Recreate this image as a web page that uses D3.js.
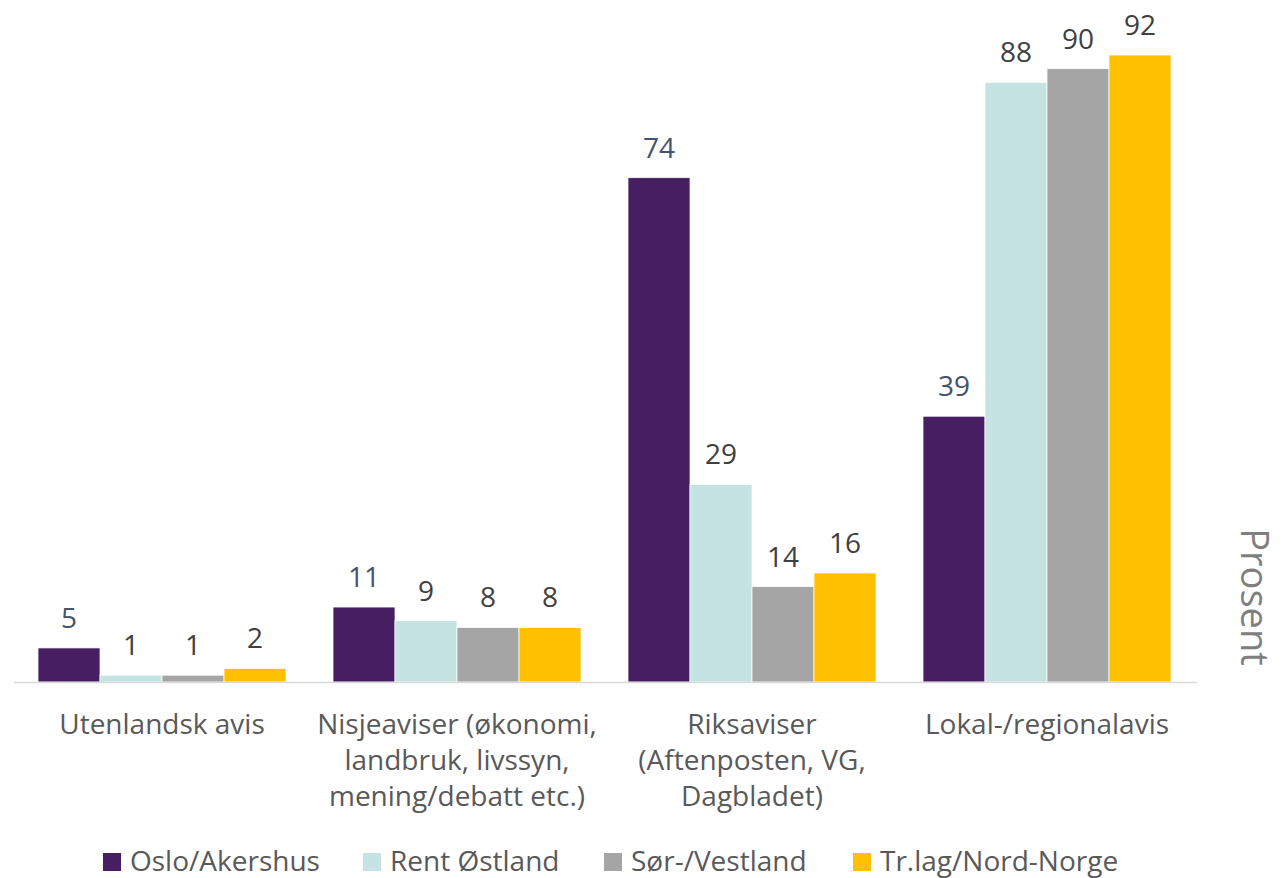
<!DOCTYPE html>
<html><head><meta charset="utf-8">
<script src="https://cdn.jsdelivr.net/npm/d3@7"></script>
<style>html,body{margin:0;padding:0;background:#fff;} svg{display:block;}</style>
</head><body>
<svg id="chart" width="1281" height="878"></svg>
<script>
const categories = ["Utenlandsk avis", "Nisjeaviser (økonomi, landbruk, livssyn, mening/debatt etc.)", "Riksaviser (Aftenposten, VG, Dagbladet)", "Lokal-/regionalavis"];
const categoryLines = [["Utenlandsk avis"], ["Nisjeaviser (økonomi,", "landbruk, livssyn,", "mening/debatt etc.)"], ["Riksaviser", "(Aftenposten, VG,", "Dagbladet)"], ["Lokal-/regionalavis"]];
const seriesNames = ["Oslo/Akershus", "Rent Østland", "Sør-/Vestland", "Tr.lag/Nord-Norge"];
const osloAkershus = [5, 11, 74, 39];
const rentOstland = [1, 9, 29, 88];
const sorVestland = [1, 8, 14, 90];
const trlagNordNorge = [2, 8, 16, 92];
const seriesValues = [osloAkershus, rentOstland, sorVestland, trlagNordNorge];
const colors = ["#481E62", "#C5E3E3", "#A5A5A5", "#FFC000"];
const labelColors = ["#44546A", "#404040", "#404040", "#404040"];
const axisTitle = "Prosent";

const svg = d3.select("#chart");
const font = "'Open Sans', 'DejaVu Sans', sans-serif";
const x0 = d3.scaleBand().domain(categories).range([14.5, 1194.5]).padding(0);
const x1 = d3.scaleBand().domain(seriesNames).range([23.5, x0.bandwidth() - 23.5]).padding(0);
const y = d3.scaleLinear().domain([0, 100]).range([682, 0.5]);

const groups = svg.selectAll("g.cat").data(categories).join("g")
  .attr("class", "cat")
  .attr("transform", d => `translate(${x0(d)},0)`);

groups.each(function(cat, ci) {
  const g = d3.select(this);
  const data = seriesNames.map((s, si) => ({s, si, v: seriesValues[si][ci]}));
  g.selectAll("rect").data(data).join("rect")
    .attr("x", d => x1(d.s))
    .attr("width", x1.bandwidth())
    .attr("y", d => y(d.v))
    .attr("height", d => y(0) - y(d.v))
    .attr("fill", d => colors[d.si])
    .attr("stroke", "#fff").attr("stroke-width", 0.75);
  g.selectAll("text.val").data(data).join("text")
    .attr("class", "val")
    .attr("x", d => x1(d.s) + x1.bandwidth() / 2)
    .attr("y", d => y(d.v) - 20)
    .attr("text-anchor", "middle")
    .attr("font-family", font).attr("font-size", 28)
    .attr("fill", d => labelColors[d.si])
    .text(d => d.v);
});

// axis line
const xAxis = d3.axisBottom(x0).tickSize(0).tickFormat("");
const ax = svg.append("g").attr("transform", `translate(0,${y(0)})`).call(xAxis);
ax.select(".domain").attr("stroke", "#D9D9D9").attr("stroke-width", 1.5)
  .attr("d", `M${14},0.5H${1197}`);

// category labels
categories.forEach((c, ci) => {
  const t = svg.append("text")
    .attr("x", x0(c) + x0.bandwidth() / 2)
    .attr("y", 734)
    .attr("text-anchor", "middle")
    .attr("font-family", font).attr("font-size", 28)
    .attr("fill", "#595959");
  categoryLines[ci].forEach((line, li) => {
    t.append("tspan").attr("x", x0(c) + x0.bandwidth() / 2).attr("dy", li === 0 ? 0 : 36).text(line);
  });
});

// axis title (rotated)
svg.append("text")
  .attr("transform", "translate(1241,597) rotate(90)")
  .attr("text-anchor", "middle")
  .attr("font-family", font).attr("font-size", 38)
  .attr("fill", "#7F7F7F")
  .text(axisTitle);

// legend
const legendX = [103, 363, 604, 853];
const lg = svg.append("g");
seriesNames.forEach((s, i) => {
  lg.append("rect").attr("x", legendX[i]).attr("y", 853).attr("width", 18).attr("height", 18).attr("fill", colors[i]);
  lg.append("text").attr("x", legendX[i] + 27).attr("y", 871)
    .attr("font-family", font).attr("font-size", 28).attr("fill", "#595959").text(s);
});
</script>
</body></html>
